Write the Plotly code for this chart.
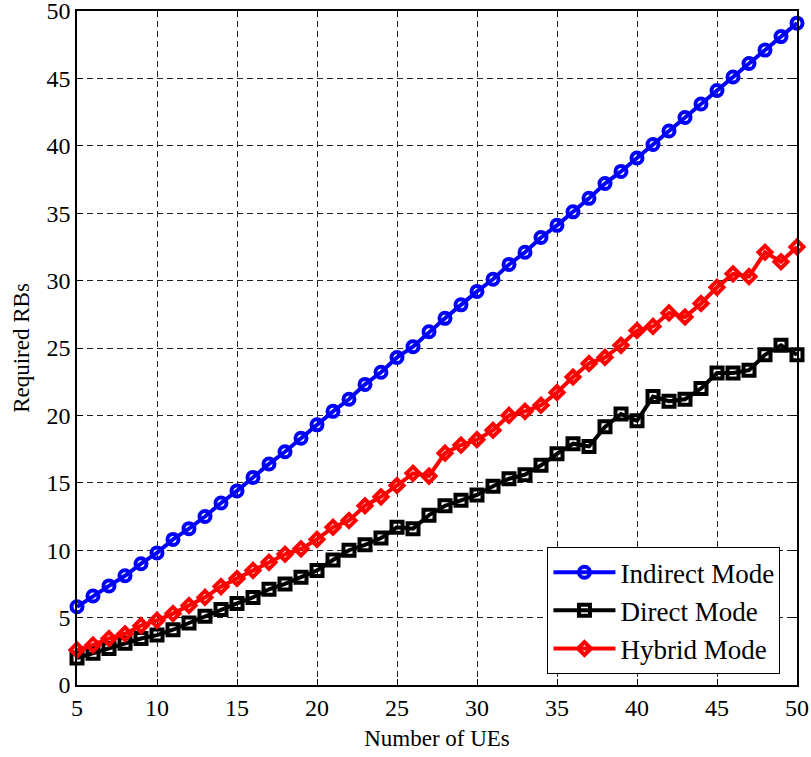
import plotly.graph_objects as go

num_ues = list(range(5, 51))

indirect_mode = [5.8, 6.6, 7.35, 8.1, 9.0, 9.8, 10.8, 11.6, 12.5, 13.5,
                 14.4, 15.4, 16.4, 17.3, 18.3, 19.3, 20.3, 21.2, 22.3, 23.2,
                 24.3, 25.1, 26.2, 27.2, 28.2, 29.2, 30.1, 31.2, 32.1, 33.2,
                 34.1, 35.1, 36.1, 37.2, 38.1, 39.1, 40.1, 41.1, 42.1, 43.1,
                 44.1, 45.1, 46.1, 47.1, 48.1, 49.1]

direct_mode = [2.0, 2.35, 2.7, 3.1, 3.45, 3.7, 4.1, 4.6, 5.1, 5.6,
               6.05, 6.5, 7.1, 7.5, 8.0, 8.5, 9.27, 10.0, 10.4, 10.9,
               11.7, 11.6, 12.6, 13.3, 13.7, 14.1, 14.75, 15.3, 15.6, 16.3,
               17.15, 17.9, 17.7, 19.15, 20.1, 19.6, 21.4, 21.05, 21.2, 22.0,
               23.15, 23.15, 23.35, 24.5, 25.2, 24.5]

hybrid_mode = [2.6, 2.97, 3.45, 3.8, 4.4, 4.8, 5.3, 5.9, 6.5, 7.3,
               7.9, 8.5, 9.1, 9.7, 10.1, 10.8, 11.7, 12.2, 13.3, 13.96,
               14.8, 15.7, 15.5, 17.2, 17.8, 18.2, 18.9, 20.0, 20.3, 20.75,
               21.7, 22.85, 23.85, 24.3, 25.2, 26.3, 26.6, 27.6, 27.3, 28.3,
               29.5, 30.5, 30.3, 32.1, 31.4, 32.5]

x_ticks = [5, 10, 15, 20, 25, 30, 35, 40, 45, 50]
y_ticks = [0, 5, 10, 15, 20, 25, 30, 35, 40, 45, 50]

FONT = "Liberation Serif"

fig = go.Figure()
fig.add_trace(go.Scatter(
    x=num_ues, y=indirect_mode, name="Indirect Mode", mode="lines+markers",
    line=dict(color="#0000ff", width=4),
    marker=dict(symbol="circle-open", size=11, color="#0000ff", line=dict(width=4, color="#0000ff")),
    cliponaxis=False))
fig.add_trace(go.Scatter(
    x=num_ues, y=direct_mode, name="Direct Mode", mode="lines+markers",
    line=dict(color="#000000", width=4),
    marker=dict(symbol="square-open", size=11, color="#000000", line=dict(width=4, color="#000000")),
    cliponaxis=False))
fig.add_trace(go.Scatter(
    x=num_ues, y=hybrid_mode, name="Hybrid Mode", mode="lines+markers",
    line=dict(color="#ff0000", width=4),
    marker=dict(symbol="diamond-open", size=10, color="#ff0000", line=dict(width=4, color="#ff0000")),
    cliponaxis=False))

axis_common = dict(
    showline=True, linecolor="black", linewidth=1.5, mirror="ticks",
    ticks="inside", ticklen=6, tickwidth=1, tickcolor="black",
    showgrid=True, gridcolor="#222222", gridwidth=1, griddash="6px,4px",
    zeroline=False, automargin=False, ticklabeloverflow="allow",
    tickfont=dict(family=FONT, size=24, color="black"),
)

fig.update_xaxes(range=[5, 50], tickvals=x_ticks, ticktext=[str(v) for v in x_ticks],
                 title=dict(text="Number of UEs", font=dict(family=FONT, size=23, color="black"), standoff=10),
                 **axis_common)
fig.update_yaxes(range=[0, 50], tickvals=y_ticks, ticktext=[str(v) for v in y_ticks],
                 title=dict(text="Required RBs", font=dict(family=FONT, size=23, color="black"), standoff=10),
                 **axis_common)

fig.update_layout(
    width=811, height=757,
    margin=dict(l=77, r=14, t=11, b=72),
    paper_bgcolor="white", plot_bgcolor="white",
    font=dict(family=FONT, color="black"),
    legend=dict(
        x=0.977, y=0.016, xanchor="right", yanchor="bottom",
        bgcolor="white", bordercolor="black", borderwidth=1,
        font=dict(family=FONT, size=27, color="black"),
        tracegroupgap=0, itemwidth=62,
    ),
    showlegend=True,
)

fig.write_html("out.html", config={"displayModeBar": False},
               post_script="document.body.style.margin='0';document.body.style.overflow='hidden';")
